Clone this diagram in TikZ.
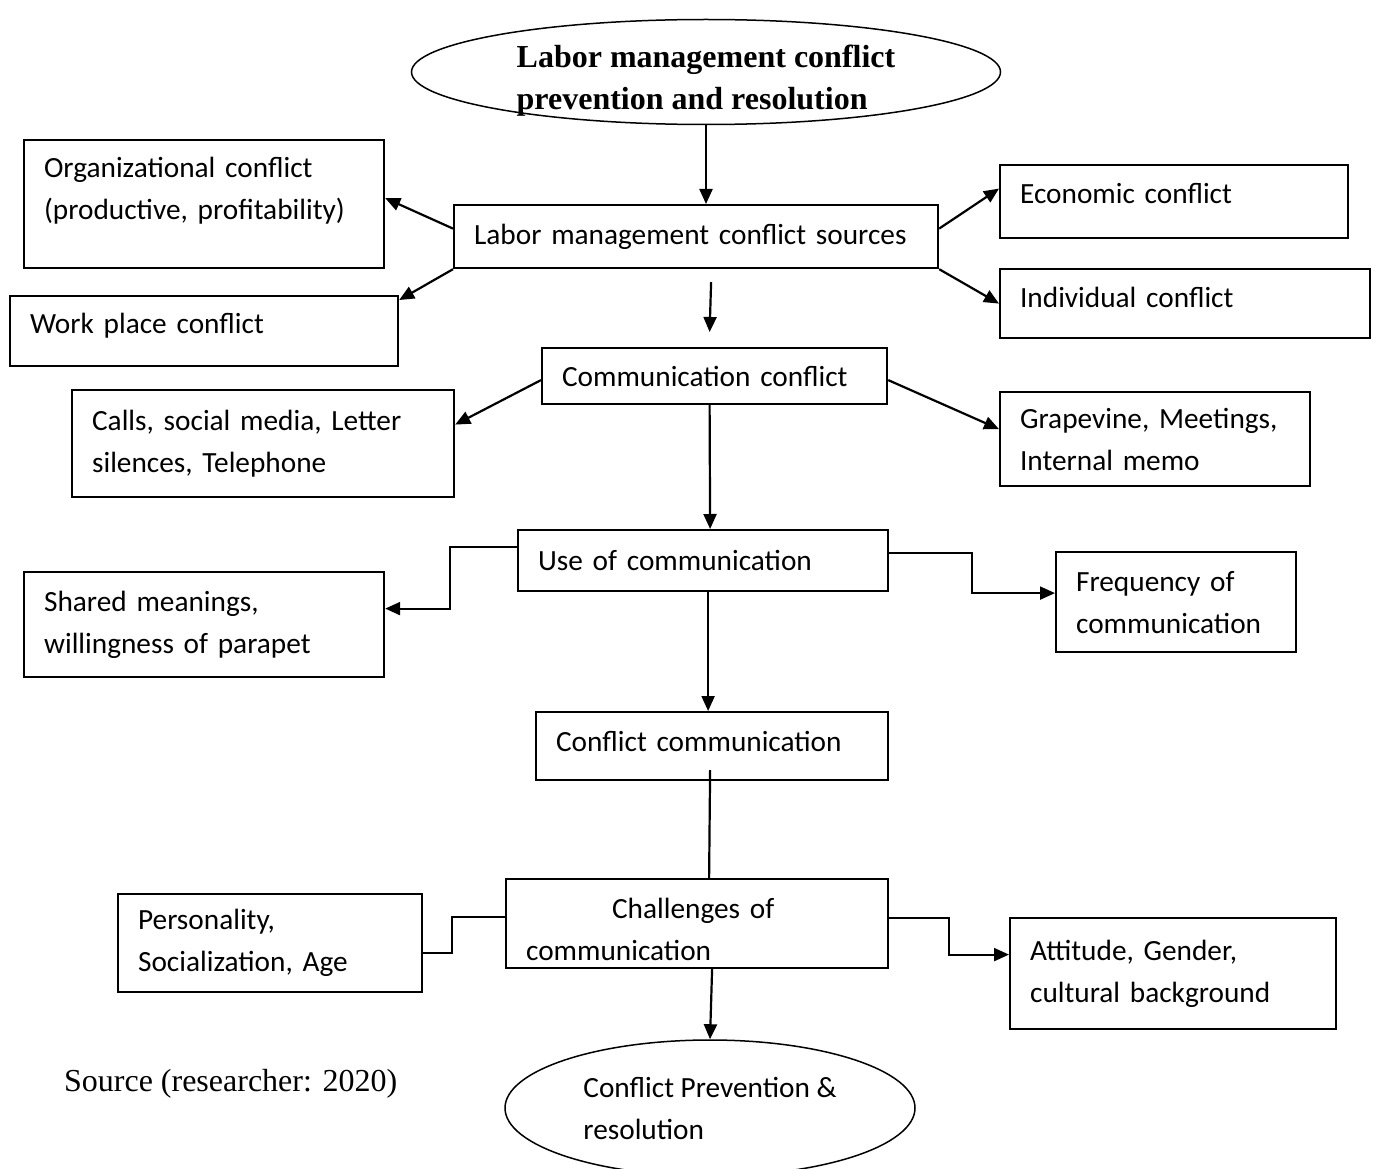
\documentclass[tikz,border=0pt]{standalone}
\usepackage{fontspec}
\setmainfont{Carlito}
\newfontfamily\timesfont{Liberation Serif}
\usepackage{tikz}
\usetikzlibrary{arrows.meta}
\usetikzlibrary{shapes.geometric}

% invisible struts to nudge text inside a box
\newcommand{\lowstrut}[1]{\rule[-#1]{0pt}{0pt}}
\newcommand{\highstrut}[1]{\rule{0pt}{#1}}

\begin{document}
\begin{tikzpicture}[
    x=1pt, y=-1pt,
    >={Triangle[length=15pt, width=13pt]},
    line width=2.2pt,
    box/.style 2 args={draw, anchor=north west, align=left,
        inner xsep=20pt, inner ysep=0pt,
        text width=#1pt, minimum height=#2pt,
        font=\fontsize{29.3}{42}\selectfont},
    oval/.style 2 args={draw, ellipse, line width=1.5pt, align=left,
        inner sep=0pt, minimum width=#1pt, minimum height=#2pt}
]

\useasboundingbox (0,0) rectangle (1378,1169);

% Title
\node[oval={589}{105},
    label={[yshift=-9pt, align=left,
        font=\timesfont\bfseries\fontsize{32}{42}\selectfont]center:Labor management conflict\\prevention and resolution}]
    (title) at (706,72) {};

% Sources
\node[box={444}{63}] (lmcs) at (453,204) {Labor management conflict sources};
\node[box={320}{128}] (org) at (23,139) {Organizational conflict\\(productive, profitability)\lowstrut{31pt}};
\node[box={348}{70}] (work) at (9,295) {Work place conflict\lowstrut{15pt}};
\node[box={308}{73}] (econ) at (999,164) {Economic conflict\lowstrut{17pt}};
\node[box={330}{69}] (indiv) at (999,268) {Individual conflict\lowstrut{13pt}};

% Communication conflict
\node[box={305}{56}] (commc) at (541,347) {Communication conflict};
\node[box={342}{107}] (calls) at (71,389) {Calls, social media, Letter\\silences, Telephone};
\node[box={270}{94}] (grape) at (999,391) {Grapevine, Meetings,\\Internal memo};

% Use of communication
\node[box={330}{61}] (use) at (517,529) {Use of communication};
\node[box={320}{105}] (shared) at (23,571) {Shared meanings,\\willingness of parapet};
\node[box={200}{100}] (freq) at (1055,551) {Frequency of\\communication};

\node[box={312}{68}] (confc) at (535,711) {Conflict communication\lowstrut{9pt}};

% Challenges
\node[box={342}{89}] (chall) at (505,878) {\highstrut{32pt}\hspace*{86pt}Challenges of\\communication};
\node[box={264}{98}] (pers) at (117,893) {Personality,\\Socialization, Age};
\node[box={286}{111}] (att) at (1009,917) {Attitude, Gender,\\cultural background};

% Outcome
\node[oval={410}{136}, font=\fontsize{29.3}{42}\selectfont]
    (outcome) at (710,1108) {Conflict Prevention \&\\resolution};

\node[anchor=west, inner sep=0pt, font=\timesfont\fontsize{32}{42}\selectfont]
    (source) at (63,1084) {Source (researcher: 2020)};

% Arrows
\draw[->] (title.south) -- (title.south |- lmcs.north);
\draw[->] ([yshift=8pt]lmcs.west) -- ([yshift=6pt]org.east);
\draw[->] (lmcs.south west) -- ([yshift=-5pt]work.north east);
\draw[->] ([yshift=8pt]lmcs.east) -- ([yshift=13pt]econ.west);
\draw[->] (lmcs.south east) -- (indiv.west);
\draw[->] ([xshift=15pt, yshift=-13pt]lmcs.south)
    -- ([xshift=-5pt, yshift=15pt]commc.north);

\draw[->] ([yshift=-4pt]commc.west) -- ([yshift=19pt]calls.east);
\draw[->] ([yshift=-4pt]commc.east) -- ([yshift=10pt]grape.west);
\draw[->] ([xshift=-5pt]commc.south) -- ([xshift=7pt]use.north);

\draw[->] ([yshift=14pt]use.west) -- ++(-67,0) |- ([yshift=16pt]shared.east);
\draw[->] ([yshift=8pt]use.east) -- ++(83,0) |- ([yshift=9pt]freq.west);
\draw[->] ([xshift=5pt]use.south) -- ([xshift=-4pt]confc.north);

\draw ([xshift=-2pt, yshift=11pt]confc.south) -- ([xshift=12pt]chall.north);

\draw ([yshift=7pt]chall.west) -- ++(-53,0) |- ([yshift=-10pt]pers.east);
\draw[->] ([yshift=6pt]chall.east) -- ++(60,0) |- ([yshift=19pt]att.west);
\draw[->] ([xshift=15pt]chall.south) -- (outcome.north);
\end{tikzpicture}
\end{document}
